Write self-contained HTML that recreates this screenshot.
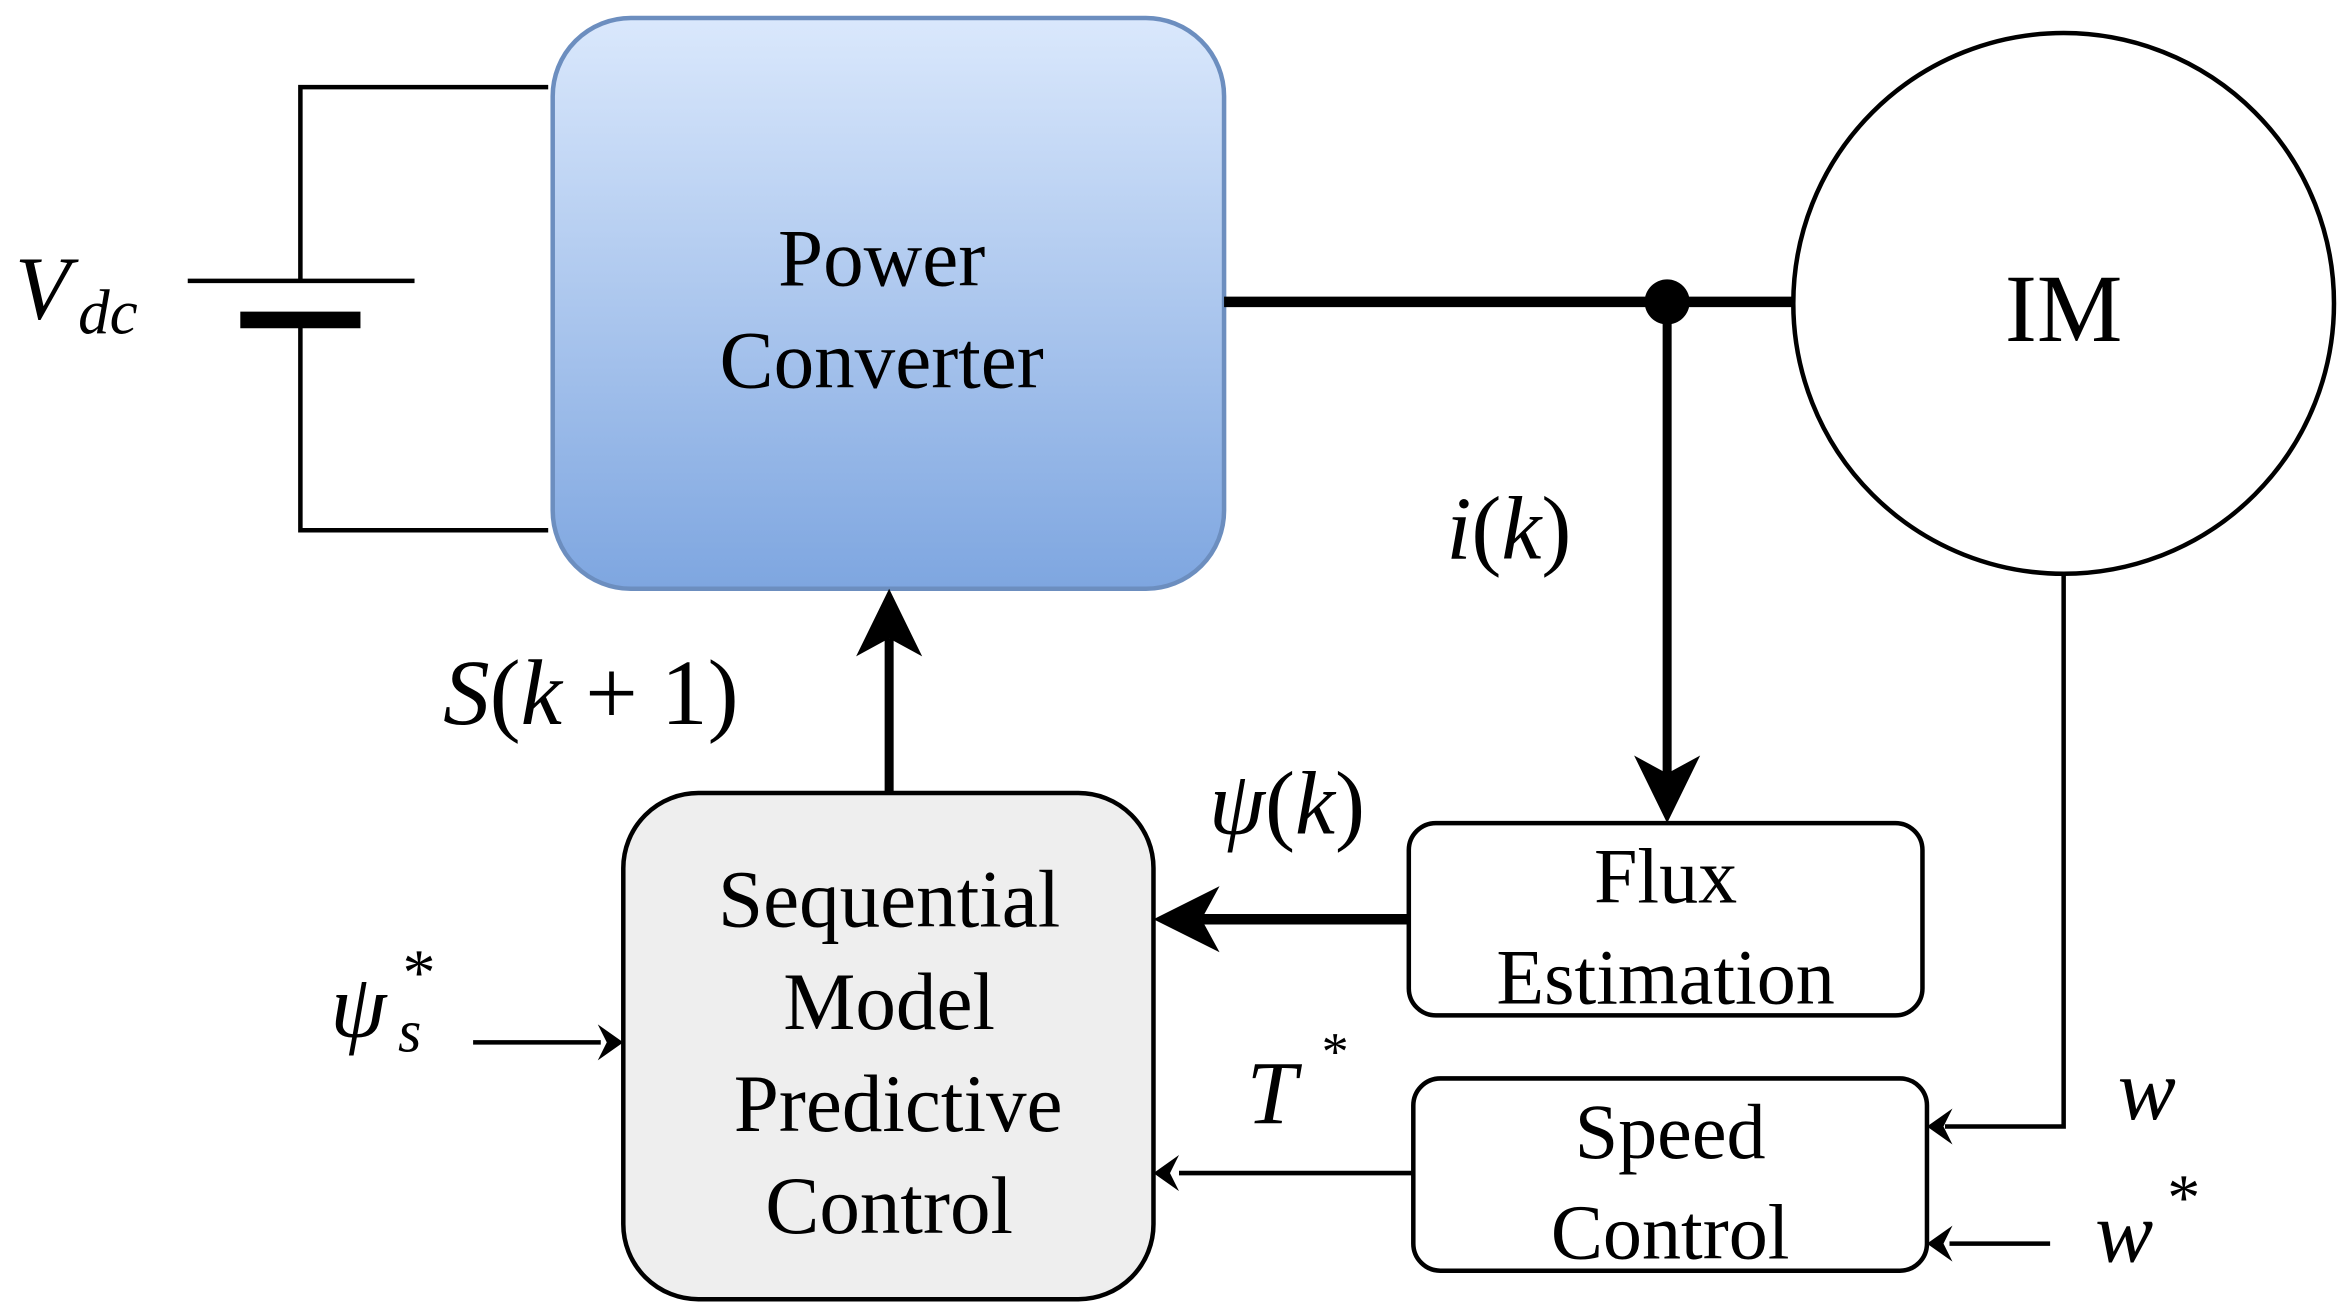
<!DOCTYPE html>
<html><head><meta charset="utf-8"><style>html,body{margin:0;padding:0;background:#fff}svg{display:block}</style></head><body>
<svg width="2343" height="1312" viewBox="0 0 1560 873.5" preserveAspectRatio="none" xmlns="http://www.w3.org/2000/svg" font-family="'Liberation Serif', serif">
<defs>
<linearGradient id="g" x1="0" y1="0" x2="0" y2="1"><stop offset="0" stop-color="#dae8fc"/><stop offset="1" stop-color="#7ea6e0"/></linearGradient>
</defs>
<polyline points="365,58 200,58 200,187" fill="none" stroke="#000" stroke-width="3"/>
<polyline points="200,213 200,353 365,353" fill="none" stroke="#000" stroke-width="3"/>
<line x1="125" y1="187" x2="276" y2="187" stroke="#000" stroke-width="3"/>
<line x1="160" y1="213" x2="240" y2="213" stroke="#000" stroke-width="11"/>
<text x="10" y="212" font-size="60" font-style="italic">V</text><text x="52" y="222" font-size="42" font-style="italic">dc</text>
<rect x="368" y="12" width="447" height="380" rx="52" fill="url(#g)" stroke="#6c8ebf" stroke-width="3"/>
<text x="587" y="190" font-size="54" text-anchor="middle">Power</text>
<text x="587" y="258" font-size="54" text-anchor="middle">Converter</text>
<line x1="815" y1="201" x2="1195" y2="201" stroke="#000" stroke-width="7"/>
<circle cx="1110" cy="201" r="15" fill="#000"/>
<circle cx="1374" cy="202" r="180" fill="#fff" stroke="#000" stroke-width="3"/>
<text x="1374" y="227" font-size="64" text-anchor="middle">IM</text>
<line x1="1110" y1="201" x2="1110" y2="515" stroke="#000" stroke-width="6"/>
<polygon points="1088,503 1110,548 1132,503 1110,515" fill="#000"/>
<text x="963" y="372" font-size="60" font-style="italic">i<tspan font-style="normal">(</tspan>k<tspan font-style="normal">)</tspan></text>
<polyline points="1374,382 1374,750 1295,750" fill="none" stroke="#000" stroke-width="3"/>
<polygon points="1300,738 1283,750 1300,762 1294,750" fill="#000"/>
<rect x="938" y="548" width="342" height="128" rx="18" fill="#fff" stroke="#000" stroke-width="3"/>
<text x="1109" y="601" font-size="52" text-anchor="middle">Flux</text>
<text x="1109" y="668" font-size="52" text-anchor="middle">Estimation</text>
<rect x="941" y="718" width="342" height="128" rx="18" fill="#fff" stroke="#000" stroke-width="3"/>
<text x="1112" y="771" font-size="52" text-anchor="middle">Speed</text>
<text x="1112" y="838" font-size="52" text-anchor="middle">Control</text>
<rect x="415" y="528" width="353" height="337" rx="50" fill="#eeeeee" stroke="#000" stroke-width="3"/>
<text x="592" y="617" font-size="54" text-anchor="middle">Sequential</text>
<text x="592" y="685" font-size="54" text-anchor="middle">Model</text>
<text x="598" y="753" font-size="54" text-anchor="middle">Predictive</text>
<text x="592" y="821" font-size="54" text-anchor="middle">Control</text>
<line x1="592" y1="528" x2="592" y2="425" stroke="#000" stroke-width="6"/>
<polygon points="570,437 592,392 614,437 592,425" fill="#000"/>
<text x="295" y="482" font-size="62" font-style="italic">S<tspan font-style="normal">(</tspan>k<tspan font-style="normal"> + 1)</tspan></text>
<line x1="938" y1="612" x2="800" y2="612" stroke="#000" stroke-width="7"/>
<polygon points="812,590 768,612 812,634 800,612" fill="#000"/>
<text x="805" y="555" font-size="60" font-style="italic">ψ<tspan font-style="normal">(</tspan>k<tspan font-style="normal">)</tspan></text>
<line x1="941" y1="781" x2="785" y2="781" stroke="#000" stroke-width="3"/>
<polygon points="785,769 768,781 785,793 779,781" fill="#000"/>
<text x="830" y="748" font-size="60" font-style="italic">T</text><text x="880" y="712" font-size="36">*</text>
<text x="220" y="690" font-size="60" font-style="italic">ψ</text><text x="265" y="700" font-size="40" font-style="italic">s</text><text x="268" y="662" font-size="44">*</text>
<line x1="315" y1="694" x2="400" y2="694" stroke="#000" stroke-width="3"/>
<polygon points="398,682 415,694 398,706 404,694" fill="#000"/>
<text x="1410" y="745" font-size="58" font-style="italic">w</text>
<text x="1395" y="840" font-size="58" font-style="italic">w</text><text x="1443" y="812" font-size="44">*</text>
<line x1="1365" y1="828" x2="1298" y2="828" stroke="#000" stroke-width="3"/>
<polygon points="1300,816 1283,828 1300,840 1294,828" fill="#000"/>
</svg>
</body></html>
